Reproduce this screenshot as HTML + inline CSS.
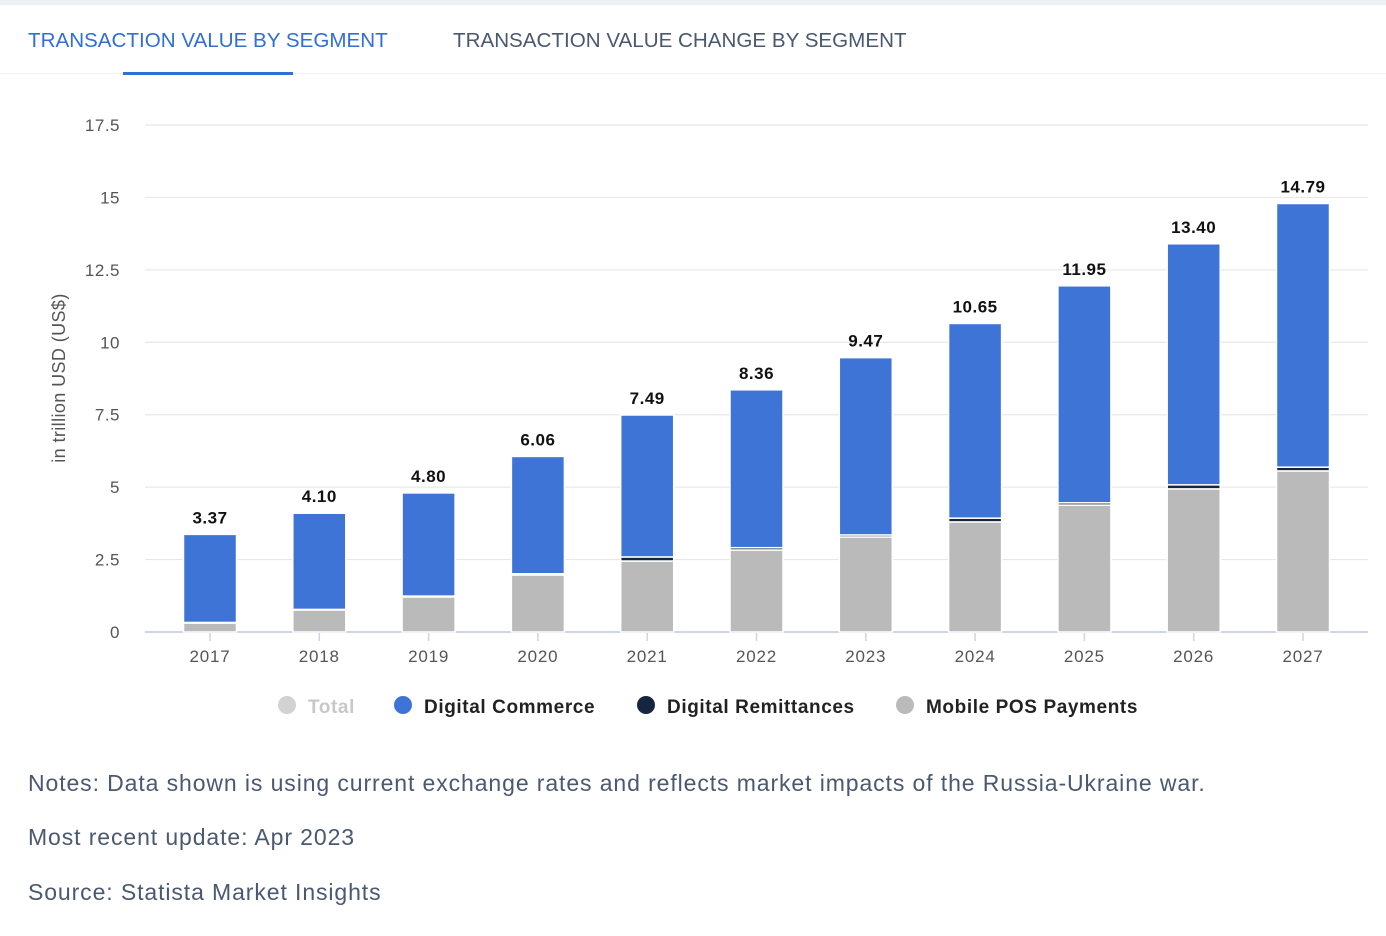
<!DOCTYPE html>
<html><head><meta charset="utf-8"><style>
body{margin:0;width:1386px;height:936px;background:#fff;font-family:"Liberation Sans",sans-serif;overflow:hidden;position:relative}
.tabs{position:absolute;top:0;left:0;width:1386px;height:74px;border-bottom:1px solid #f0f1f4;border-top:5px solid #eef0f4;box-sizing:border-box}
.tab{position:absolute;top:24px;font-size:20.6px}
.note{position:absolute;left:28px;font-size:23px;color:#4a5870;letter-spacing:0.9px}
</style></head><body>
<div class="tabs">
<div class="tab" style="left:28px;color:#2f6fd6">TRANSACTION VALUE BY SEGMENT</div>
<div style="position:absolute;left:123px;top:67px;width:170px;height:3px;background:#2f6fd6"></div>
<div class="tab" style="left:453px;color:#4a5870">TRANSACTION VALUE CHANGE BY SEGMENT</div>
</div>
<svg id="chart" width="1386" height="740" style="position:absolute;top:0;left:0"></svg>
<div class="note" style="top:770px">Notes: Data shown is using current exchange rates and reflects market impacts of the Russia-Ukraine war.</div>
<div class="note" style="top:824px">Most recent update: Apr 2023</div>
<div class="note" style="top:879px">Source: Statista Market Insights</div>
<script>
const years=["2017","2018","2019","2020","2021","2022","2023","2024","2025","2026","2027"];
const totals=[3.37,4.10,4.80,6.06,7.49,8.36,9.47,10.65,11.95,13.40,14.79];
const totalLabels=["3.37","4.10","4.80","6.06","7.49","8.36","9.47","10.65","11.95","13.40","14.79"];
const mobilePOS=[0.31,0.76,1.21,1.97,2.45,2.83,3.28,3.80,4.38,4.94,5.56];
const remittances=[0.02,0.02,0.03,0.04,0.14,0.08,0.07,0.13,0.08,0.14,0.13];
const yTicks=[0,2.5,5,7.5,10,12.5,15,17.5];
const yTickLabels=["0","2.5","5","7.5","10","12.5","15","17.5"];
const svg=document.getElementById('chart');const NS="http://www.w3.org/2000/svg";
function mk(t,a,p){const e=document.createElementNS(NS,t);for(const k in a)e.setAttribute(k,a[k]);(p||svg).appendChild(e);return e;}
const y=v=>632-v*(507/17.5);
const x=i=>210+i*109.3;
yTicks.forEach((t,i)=>{
 const g=mk('line',{x1:145,x2:1368,y1:y(t),y2:y(t),stroke:t===0?'#cfd4e6':'#e8e8e8','stroke-width':t===0?2:1.2});
 
 const l=mk('text',{x:120,y:y(t)+6,'text-anchor':'end','font-size':17,fill:'#555','letter-spacing':0.5});l.textContent=yTickLabels[i];
 
});
const yt=mk('text',{transform:'translate(65,378) rotate(-90)','text-anchor':'middle','font-size':18,fill:'#555','letter-spacing':0.4});yt.textContent='in trillion USD (US$)';

years.forEach((yr,i)=>{
 const cx=x(i),w=53;
 const dc=totals[i]-mobilePOS[i]-remittances[i];
 const segs=[[mobilePOS[i],'#bababa','bar-mobile-pos'],[remittances[i],'#172640','bar-remittances'],[dc,'#3f74d7','bar-digital-commerce']];
 let base=0;
 segs.forEach(s=>{
  const r=mk('rect',{x:cx-w/2,y:y(base+s[0]),width:w,height:Math.max(0,y(base)-y(base+s[0])),fill:s[1],stroke:'#fff','stroke-width':1.5});
  
  base+=s[0];
 });
 const tk=mk('line',{x1:cx,x2:cx,y1:633,y2:641,stroke:'#cfd4e6','stroke-width':1.5});
 
 const l=mk('text',{x:cx,y:662,'text-anchor':'middle','font-size':17,fill:'#555','letter-spacing':0.8});l.textContent=yr;
 
 const v=mk('text',{x:cx,y:y(totals[i])-11,'text-anchor':'middle','font-size':17,'font-weight':'bold',fill:'#111','letter-spacing':0.5});v.textContent=totalLabels[i];
 
});
const legend=[["Total","#d2d2d2","#c8c8c8",287,"legend-total"],["Digital Commerce","#3f74d7","#222",403,"legend-digital-commerce"],["Digital Remittances","#172640","#222",646,"legend-digital-remittances"],["Mobile POS Payments","#bababa","#222",905,"legend-mobile-pos"]];
legend.forEach(l=>{
 const g=mk('g',{});
 mk('circle',{cx:l[3],cy:705,r:9,fill:l[1]},g);
 const t=mk('text',{x:l[3]+21,y:713,'font-size':19,'font-weight':'bold',fill:l[2],'letter-spacing':'0.6'},g);t.textContent=l[0];
});
</script>
</body></html>
